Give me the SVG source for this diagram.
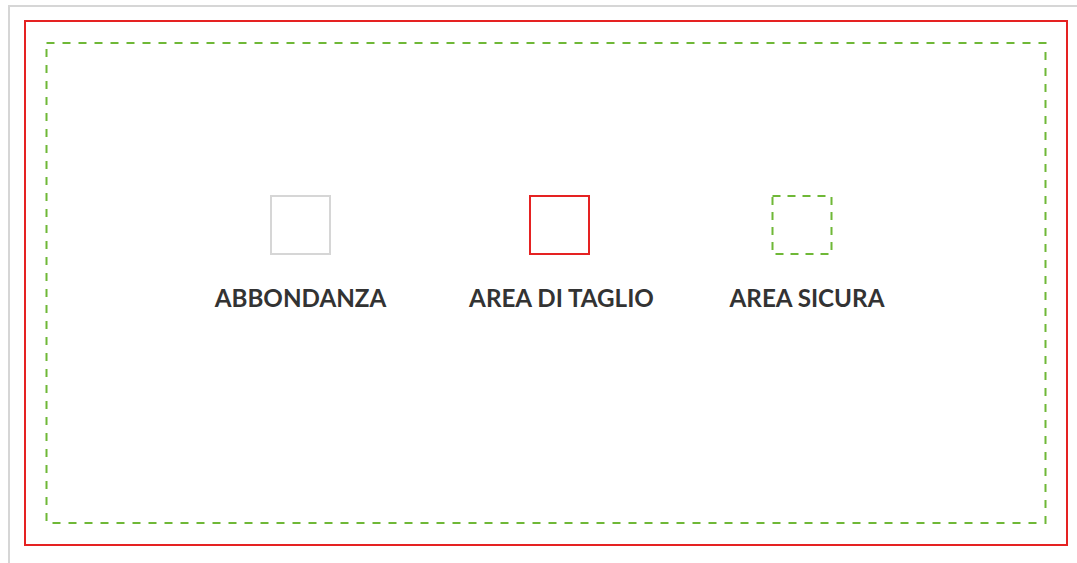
<svg xmlns="http://www.w3.org/2000/svg" width="1077" height="563" viewBox="0 0 1077 563">
<style>
.lbl{font-family:Lato,"Liberation Sans",sans-serif;font-weight:700;font-size:24.2px;fill:#333333;text-anchor:middle}
.grey{fill:none;stroke:#d6d6d6;stroke-width:2}
.red{fill:none;stroke:#e52222;stroke-width:2}
.green{fill:none;stroke:#6fb837;stroke-width:2;stroke-dasharray:8 8}
.gsm{fill:none;stroke:#6fb837;stroke-width:2;stroke-dasharray:8 7}
</style>
<rect width="1077" height="563" fill="#ffffff"/>
<g id="frames">
<path class="grey" d="M9 563 V6 H1077"/>
<rect class="red" x="25" y="21" width="1042" height="524"/>
<rect class="green" x="46.5" y="43" width="999" height="480"/>
</g>
<g id="abbondanza">
<rect class="grey" x="271" y="196" width="59" height="58"/>
<text class="lbl" x="300.5" y="306.5">ABBONDANZA</text>
</g>
<g id="area-taglio">
<rect class="red" x="530" y="196" width="59" height="58"/>
<text class="lbl" x="561.5" y="306.5">AREA DI TAGLIO</text>
</g>
<g id="area-sicura">
<rect class="gsm" x="772.5" y="196" width="59" height="58"/>
<text class="lbl" x="807" y="306.5">AREA SICURA</text>
</g>
</svg>
